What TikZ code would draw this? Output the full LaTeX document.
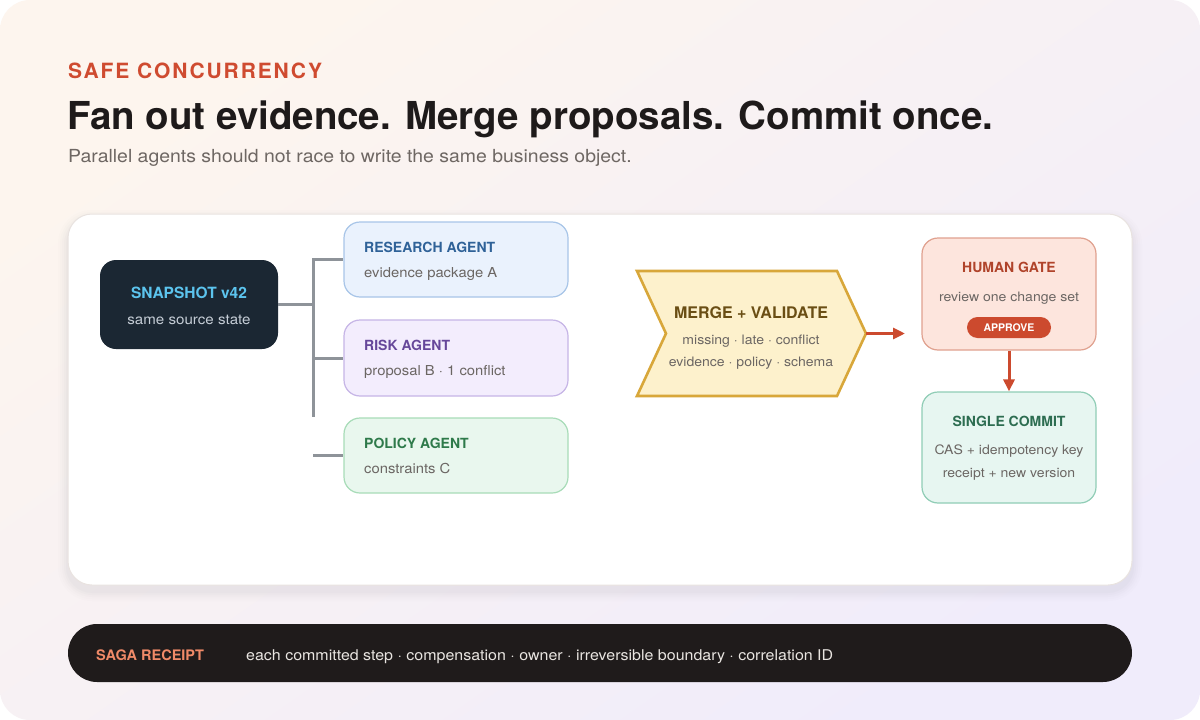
\documentclass[tikz,border=0pt]{standalone}
\usepackage{fontspec}
\setmainfont{TeX Gyre Heros}
\newfontfamily\widefont{TeX Gyre Heros}[FakeStretch=1.08]
\usetikzlibrary{arrows.meta,calc}
\definecolor{bgA}{HTML}{FDF5EE}
\definecolor{bgB}{HTML}{F0ECFB}
\definecolor{kicker}{HTML}{CF4B30}
\definecolor{titleC}{HTML}{1E1A1A}
\definecolor{subC}{HTML}{6E6763}
\definecolor{panelB}{HTML}{E9E3E0}
\definecolor{snapF}{HTML}{1B2733}
\definecolor{snapT}{HTML}{5CC4EE}
\definecolor{snapS}{HTML}{C5CDD6}
\definecolor{treeC}{HTML}{8E9399}
\definecolor{resF}{HTML}{EAF2FD}
\definecolor{resB}{HTML}{A8C5E8}
\definecolor{resT}{HTML}{2F6298}
\definecolor{riskF}{HTML}{F3EDFD}
\definecolor{riskB}{HTML}{C6B5E6}
\definecolor{riskT}{HTML}{66479A}
\definecolor{polF}{HTML}{E9F7EE}
\definecolor{polB}{HTML}{A8DCB8}
\definecolor{polT}{HTML}{2E7A4A}
\definecolor{mrgF}{HTML}{FDF1CC}
\definecolor{mrgB}{HTML}{D8A73A}
\definecolor{mrgT}{HTML}{6A4E14}
\definecolor{redC}{HTML}{CC4A2E}
\definecolor{gateF}{HTML}{FDE5DD}
\definecolor{gateB}{HTML}{E0A18F}
\definecolor{gateT}{HTML}{B0432A}
\definecolor{comF}{HTML}{E7F6F1}
\definecolor{comB}{HTML}{90CDB6}
\definecolor{comT}{HTML}{2D6D51}
\definecolor{barF}{HTML}{1F1B1B}
\definecolor{barT}{HTML}{F08A68}
\definecolor{barS}{HTML}{E9E5E1}
\definecolor{bodyC}{HTML}{6B6663}
\tikzset{
  card/.style={draw, line width=1.2pt, rounded corners=16pt, inner sep=0pt},
  cardtitle/.style={font=\fontsize{14}{14}\selectfont\bfseries, anchor=base west},
  cardtext/.style={font=\widefont\fontsize{13.7}{13.7}\selectfont, text=bodyC, anchor=base west},
  ctitle/.style={font=\fontsize{14}{14}\selectfont\bfseries, anchor=base},
  ctext/.style={font=\widefont\fontsize{13}{13}\selectfont, text=bodyC, anchor=base},
  treeline/.style={draw=treeC, line width=3pt},
  redarrow/.style={draw=redC, line width=3pt, -{Triangle[length=12pt,width=11pt]}},
}
\begin{document}
\begin{tikzpicture}[x=1pt,y=-1pt]
\useasboundingbox (0,0) rectangle (1200,720);
\fill[white] (0,0) rectangle (1200,720);
\shade[top color=bgA, bottom color=bgB, shading angle=35, rounded corners=30pt] (0,0) rectangle (1200,720);
% header
\node[anchor=base west, inner sep=0pt, text=kicker, font=\fontsize{21}{21}\selectfont\bfseries\addfontfeature{LetterSpace=9}] (kick) at (68,78) {SAFE CONCURRENCY};
\node[anchor=base west, inner sep=0pt, text=titleC, font=\fontsize{38.5}{38.5}\selectfont\bfseries] (title) at (67,129) {Fan out evidence. Merge proposals. Commit once.};
\node[anchor=base west, inner sep=0pt, text=subC, font=\widefont\fontsize{18}{18}\selectfont] (sub) at (68,162) {Parallel agents should not race to write the same business object.};
% panel shadow
\foreach \i/\o in {10/0.015,8/0.02,6/0.025,4/0.03,2/0.035}{
  \fill[black!40!bgB, opacity=\o, rounded corners=24pt+\i pt] (68-\i,214-\i+6) rectangle (1132+\i,585+\i+6);
}
\node[draw=panelB, fill=white, line width=1pt, rounded corners=24pt, minimum width=1064pt, minimum height=371pt, inner sep=0pt] (panel) at (600,399.5) {};
% snapshot
\node[fill=snapF, rounded corners=16pt, minimum width=178pt, minimum height=89pt, inner sep=0pt] (snap) at (189,304.5) {};
\node[ctitle, text=snapT, font=\fontsize{15.5}{15.5}\selectfont\bfseries] (snapt) at (189,298.5) {SNAPSHOT v42};
\node[ctext, text=snapS, font=\widefont\fontsize{14}{14}\selectfont] (snaps) at (189,324.5) {same source state};
% agents
\node[card, draw=resB, fill=resF, minimum width=224pt, minimum height=75pt] (res) at (456,259.5) {};
\node[cardtitle, text=resT, inner sep=0pt] (rest) at (364,252) {RESEARCH AGENT};
\node[cardtext, inner sep=0pt] (ress) at (364,277) {evidence package A};
\node[card, draw=riskB, fill=riskF, minimum width=224pt, minimum height=76pt] (risk) at (456,358) {};
\node[cardtitle, text=riskT, inner sep=0pt] (riskt) at (364,350) {RISK AGENT};
\node[cardtext, inner sep=0pt] (risks) at (364,375) {proposal B · 1 conflict};
\node[card, draw=polB, fill=polF, minimum width=224pt, minimum height=75pt] (pol) at (456,455.5) {};
\node[cardtitle, text=polT, inner sep=0pt] (polt) at (364,448) {POLICY AGENT};
\node[cardtext, inner sep=0pt] (pols) at (364,473) {constraints C};
% tree
\coordinate (j0) at (313,304.5);
\coordinate (jt) at (313,259.5);
\coordinate (jb) at (313,417);
\coordinate (jp) at (313,455.5);
\draw[treeline] (snap.east) -- (j0);
\draw[treeline] ($(jt)+(0,-1.5)$) -- (jb);
\draw[treeline] (jt) -- (res.west);
\draw[treeline] (313,358) -- (risk.west);
\draw[treeline] (jp) -- (pol.west);
% merge chevron
\coordinate (mtip) at (866,333.5);
\draw[draw=mrgB, fill=mrgF, line width=2.6pt, line join=miter] (637,271) -- (837,271) -- (mtip) -- (837,396) -- (637,396) -- (666,333.5) -- cycle;
\node[ctitle, text=mrgT, font=\fontsize{16}{16}\selectfont\bfseries] (mrgt) at (751,318) {MERGE + VALIDATE};
\node[ctext] (mrg1) at (751,344) {missing · late · conflict};
\node[ctext] (mrg2) at (751,366) {evidence · policy · schema};
\coordinate (aend) at (905,333.5);
\draw[redarrow] (mtip) -- (aend);
% human gate
\node[card, draw=gateB, fill=gateF, minimum width=174pt, minimum height=112pt] (gate) at (1009,294) {};
\node[ctitle, text=gateT] (gatet) at (1009,272) {HUMAN GATE};
\node[ctext] (gates) at (1009,301) {review one change set};
\node[fill=redC, rounded corners=10.5pt, minimum width=84pt, minimum height=21pt, inner sep=0pt, text=white, font=\fontsize{10.5}{10.5}\selectfont\bfseries] (appr) at (1009,327.5) {APPROVE};
% commit
\node[card, draw=comB, fill=comF, minimum width=174pt, minimum height=111pt] (com) at (1009,447.5) {};
\node[ctitle, text=comT] (comt) at (1009,426) {SINGLE COMMIT};
\node[ctext] (com1) at (1009,454) {CAS + idempotency key};
\node[ctext] (com2) at (1009,477) {receipt + new version};
\draw[redarrow] (gate.south) -- (com.north);
% bottom bar
\node[fill=barF, rounded corners=29pt, minimum width=1064pt, minimum height=58pt, inner sep=0pt] (bar) at (600,653) {};
\node[anchor=base west, inner sep=0pt, text=barT, font=\fontsize{14.5}{14.5}\selectfont\bfseries] (bart) at (96,660) {SAGA RECEIPT};
\node[anchor=base west, inner sep=0pt, text=barS, font=\widefont\fontsize{14.8}{14.8}\selectfont] (bars) at (246,660) {each committed step · compensation · owner · irreversible boundary · correlation ID};
\end{tikzpicture}
\end{document}
